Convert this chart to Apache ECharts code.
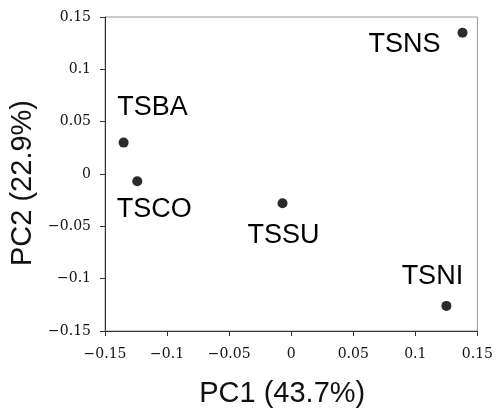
<!DOCTYPE html>
<html>
<head>
<meta charset="utf-8">
<script src="https://cdn.jsdelivr.net/npm/echarts@6/dist/echarts.min.js"></script>
<style>
  html, body { margin: 0; padding: 0; background: #fff; }
  #chart { width: 496px; height: 413px; }
</style>
</head>
<body>
<div id="chart"></div>
<script>
// PCA scores
const samples = ['TSBA', 'TSCO', 'TSSU', 'TSNI', 'TSNS']
const pc1 = [-0.135, -0.124, -0.007, 0.125, 0.138]
const pc2 = [0.030, -0.007, -0.028, -0.126, 0.135]
const ticks = [-0.15, -0.1, -0.05, 0, 0.05, 0.1, 0.15]

// where each name sits relative to its dot (px)
const labelOffset = {
  TSBA: [29, -35],
  TSCO: [17, 28],
  TSSU: [1, 32],
  TSNI: [-14, -29],
  TSNS: [-58, 12]
}

const fmt = v => String(+v.toFixed(2)).replace('-', '\u2212')

const tickFont = {
  color: '#111',
  fontFamily: 'DejaVu Serif',
  fontSize: 14
}
const nameFont = {
  color: '#111',
  fontFamily: 'Liberation Sans',
  fontSize: 29
}

const chart = echarts.init(document.getElementById('chart'))
chart.setOption({
  animation: false,
  grid: {
    left: 105,
    right: 18,
    top: 17,
    bottom: 80,
    show: true,
    borderColor: '#999',
    borderWidth: 1
  },
  xAxis: {
    type: 'value',
    min: ticks[0],
    max: ticks[ticks.length - 1],
    interval: 0.05,
    name: 'PC1 (43.7%)',
    nameLocation: 'middle',
    nameGap: 48,
    nameTextStyle: { ...nameFont, padding: [0, 18, 0, 0] },
    axisLine: { onZero: false, lineStyle: { color: '#333', width: 1 } },
    axisTick: { length: 5, lineStyle: { color: '#333' } },
    axisLabel: { ...tickFont, margin: 16, formatter: fmt },
    splitLine: { show: false }
  },
  yAxis: {
    type: 'value',
    min: ticks[0],
    max: ticks[ticks.length - 1],
    interval: 0.05,
    name: 'PC2 (22.9%)',
    nameLocation: 'middle',
    nameGap: 60,
    nameTextStyle: { ...nameFont, padding: [0, 18, 0, 0] },
    axisLine: { show: true, onZero: false, lineStyle: { color: '#333', width: 1 } },
    axisTick: { show: true, length: 5, lineStyle: { color: '#333' } },
    axisLabel: { ...tickFont, margin: 14, formatter: fmt },
    splitLine: { show: false }
  },
  series: [{
    type: 'scatter',
    symbolSize: 10,
    itemStyle: { color: '#2b2b2b', opacity: 1 },
    data: samples.map((s, i) => ({
      name: s,
      value: [pc1[i], pc2[i]],
      label: {
        show: true,
        position: 'inside',
        offset: labelOffset[s],
        formatter: '{b}',
        align: 'center',
        verticalAlign: 'middle',
        color: '#000',
        opacity: 1,
        fontFamily: 'Liberation Sans',
        fontSize: 27
      }
    }))
  }]
})
</script>
</body>
</html>
